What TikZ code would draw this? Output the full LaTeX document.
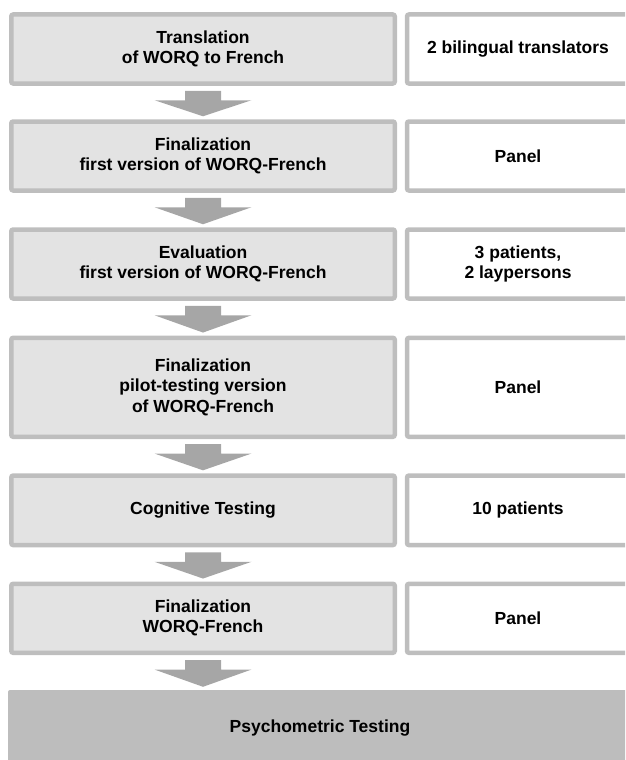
\documentclass[tikz,border=0pt]{standalone}
\usepackage{fontspec}
\setmainfont{Liberation Sans}
\usetikzlibrary{calc}

\definecolor{boxline}{HTML}{BEBEBE}
\definecolor{boxfill}{HTML}{E3E3E3}
\definecolor{arrowfill}{HTML}{A6A6A6}
\definecolor{lastfill}{HTML}{BDBDBD}

\tikzset{
  boxtext/.style={align=center, font=\bfseries\fontsize{17.5}{20.1}\selectfont},
  stepbox/.style={boxtext, draw=boxline, fill=boxfill, line width=4.5pt,
    rounded corners=2pt, minimum width=383.5pt},
  whobox/.style={boxtext, draw=boxline, fill=white, line width=4.5pt,
    rounded corners=2pt, minimum width=222pt},
  lastbox/.style={boxtext, fill=lastfill, rounded corners=2pt,
    minimum width=624pt, minimum height=76pt}
}

% block arrow from one box down to the next
\newcommand{\flowarrow}[2]{%
  \fill[arrowfill] ($(#1.south)+(-18,5)$) -- ($(#1.south)+(18,5)$)
    -- ($(#1.south)+(18,14.5)$) -- ($(#1.south)+(48.5,14.5)$)
    -- ($(#1.south |- #2.north)+(0,-3)$)
    -- ($(#1.south)+(-48.5,14.5)$) -- ($(#1.south)+(-18,14.5)$) -- cycle;}

\begin{document}
\begin{tikzpicture}[x=1pt,y=-1pt]
  \useasboundingbox (0,0) rectangle (625,760);
  \clip (0,0) rectangle (625,760);
  %Steps
  \node[stepbox, minimum height=69pt] (transl) at (203,49) {Translation\\of WORQ to French};
  \node[stepbox, minimum height=69pt] (final1) at (203,156) {Finalization\\first version of WORQ-French};
  \node[stepbox, minimum height=69pt] (eval1) at (203,264) {Evaluation\\first version of WORQ-French};
  \node[stepbox, minimum height=99pt] (finalpilot) at (203,387.3) {Finalization\\pilot-testing version\\of WORQ-French};
  \node[stepbox, minimum height=69.5pt] (cogtest) at (203,510.3) {Cognitive Testing};
  \node[stepbox, minimum height=69pt] (finalfr) at (203,618.3) {Finalization\\WORQ-French};
  \node[lastbox] (psycho) at (320,728) {Psychometric Testing};
  %Who did it
  \node[whobox, minimum height=69pt] (transwho) at (518,49) {2 bilingual translators};
  \node[whobox, minimum height=69pt] (final1who) at (518,156) {Panel};
  \node[whobox, minimum height=69pt] (eval1who) at (518,264) {3 patients,\\2 laypersons};
  \node[whobox, minimum height=99pt] (finalpilotwho) at (518,387.3) {Panel};
  \node[whobox, minimum height=69.5pt] (cogtestwho) at (518,510.3) {10 patients};
  \node[whobox, minimum height=69pt] (finalfrwho) at (518,618.3) {Panel};
  %Arrows
  \flowarrow{transl}{final1}
  \flowarrow{final1}{eval1}
  \flowarrow{eval1}{finalpilot}
  \flowarrow{finalpilot}{cogtest}
  \flowarrow{cogtest}{finalfr}
  \flowarrow{finalfr}{psycho}
\end{tikzpicture}
\end{document}
